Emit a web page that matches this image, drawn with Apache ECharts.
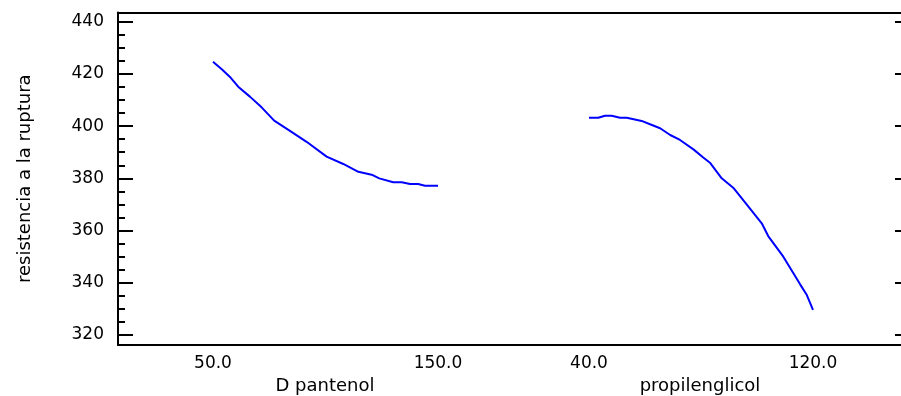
<!DOCTYPE html>
<html>
<head>
<meta charset="utf-8">
<script src="https://cdn.jsdelivr.net/npm/echarts@6/dist/echarts.min.js"></script>
<style>html,body{margin:0;padding:0;background:#fff}#c{width:901px;height:396px}</style>
</head>
<body>
<div id="c"></div>
<script>
// ---- data ----
const yTitle = 'resistencia a la ruptura';
const factorNames = ['D pantenol', 'propilenglicol'];
const yMajorTicks = [320, 340, 360, 380, 400, 420, 440];
const yMinorTicks = [320,325,330,335,340,345,350,355,360,365,370,375,380,385,390,395,400,405,410,415,420,425,430,435,440];
const pantenolTicks = [50, 150];
const propilTicks = [40, 120];
const pantenolX = [50, 53.9, 57.9, 61.2, 66.4, 71.6, 77.2, 84.2, 91.6, 100.5, 107.9, 114.6, 120.5, 123.9, 130.1, 133.9, 137.6, 141.2, 144.2, 150];
const pantenolY = [424.7, 421.8, 418.5, 415.1, 411.3, 407.2, 402.1, 398.2, 394.0, 388.3, 385.5, 382.5, 381.4, 380.0, 378.5, 378.5, 377.8, 377.8, 377.2, 377.2];
const propilX = [40, 43.3, 45.7, 48.1, 51.1, 53.5, 58.8, 61.8, 65.4, 69.0, 72.5, 77.3, 80.8, 83.2, 87.4, 91.5, 96.3, 101.7, 104.0, 109.4, 115.4, 117.8, 120];
const propilY = [403.2, 403.2, 404.0, 404.0, 403.2, 403.2, 402.0, 400.7, 399.2, 396.6, 394.7, 391.1, 388.0, 386.0, 380.0, 376.4, 370.0, 362.8, 357.9, 350.0, 339.4, 335.3, 329.6];

const FONT = 'DejaVu Sans';
const yMin = 316.17, yMax = 443.52;
const zip = (xs, ys) => xs.map((x, i) => [x, ys[i]]);

const chart = echarts.init(document.getElementById('c'), null, {renderer: 'canvas'});
const lineStyleAxis = {color: '#000', width: 2};
chart.setOption({
  animation: false,
  backgroundColor: '#fff',
  grid: [
    {left: 118, top: 12.5, bottom: 51, width: 414, containLabel: false, outerBoundsMode: 'none'},
    {left: 499, top: 12.5, bottom: 51, right: 0, containLabel: false, outerBoundsMode: 'none'}
  ],
  xAxis: [
    {gridIndex: 0, type: 'value', min: 7.78, max: 191.78, position: 'bottom',
     name: factorNames[0], nameLocation: 'middle', nameGap: 31,
     nameTextStyle: {fontFamily: FONT, fontSize: 18, color: '#000'},
     axisLine: {show: true, onZero: false, lineStyle: lineStyleAxis},
     axisTick: {show: false}, splitLine: {show: false},
     axisLabel: {customValues: pantenolTicks, formatter: v => v.toFixed(1), margin: 10,
                 fontFamily: FONT, fontSize: 17, color: '#000'}},
    {gridIndex: 1, type: 'value', min: 7.86, max: 151.43, position: 'bottom',
     name: factorNames[1], nameLocation: 'middle', nameGap: 31,
     nameTextStyle: {fontFamily: FONT, fontSize: 18, color: '#000'},
     axisLine: {show: true, onZero: false, lineStyle: lineStyleAxis},
     axisTick: {show: false}, splitLine: {show: false},
     axisLabel: {customValues: propilTicks, formatter: v => v.toFixed(1), margin: 10,
                 fontFamily: FONT, fontSize: 17, color: '#000'}},
    {gridIndex: 0, type: 'value', min: 7.78, max: 191.78, position: 'top',
     axisLine: {show: true, onZero: false, lineStyle: lineStyleAxis},
     axisTick: {show: false}, axisLabel: {show: false}, splitLine: {show: false}},
    {gridIndex: 1, type: 'value', min: 7.86, max: 151.43, position: 'top',
     axisLine: {show: true, onZero: false, lineStyle: lineStyleAxis},
     axisTick: {show: false}, axisLabel: {show: false}, splitLine: {show: false}}
  ],
  yAxis: [
    {gridIndex: 0, type: 'value', min: yMin, max: yMax, position: 'left',
     name: yTitle, nameLocation: 'middle', nameGap: 84, nameRotate: 90,
     nameTextStyle: {fontFamily: FONT, fontSize: 18, color: '#000'},
     axisLine: {show: true, onZero: false, lineStyle: lineStyleAxis},
     axisTick: {show: true, inside: true, length: 15, customValues: yMajorTicks, lineStyle: {color: '#000', width: 2}},
     axisLabel: {customValues: yMajorTicks, margin: 14, fontFamily: FONT, fontSize: 17, color: '#000'},
     splitLine: {show: false}},
    {gridIndex: 0, type: 'value', min: yMin, max: yMax, position: 'left', offset: 0,
     axisLine: {show: false},
     axisTick: {show: true, inside: true, length: 7, customValues: yMinorTicks, lineStyle: {color: '#000', width: 2}},
     axisLabel: {show: false}, splitLine: {show: false}},
    {gridIndex: 1, type: 'value', min: yMin, max: yMax, position: 'right',
     axisLine: {show: false},
     axisTick: {show: true, inside: true, length: 6, customValues: yMajorTicks, lineStyle: {color: '#000', width: 2}},
     axisLabel: {show: false}, splitLine: {show: false}}
  ],
  series: [
    {type: 'line', xAxisIndex: 0, yAxisIndex: 0, data: zip(pantenolX, pantenolY),
     showSymbol: false, symbol: 'none', lineStyle: {color: '#0000ff', width: 2}},
    {type: 'line', xAxisIndex: 1, yAxisIndex: 2, data: zip(propilX, propilY),
     showSymbol: false, symbol: 'none', lineStyle: {color: '#0000ff', width: 2}}
  ]
});
</script>
</body>
</html>
